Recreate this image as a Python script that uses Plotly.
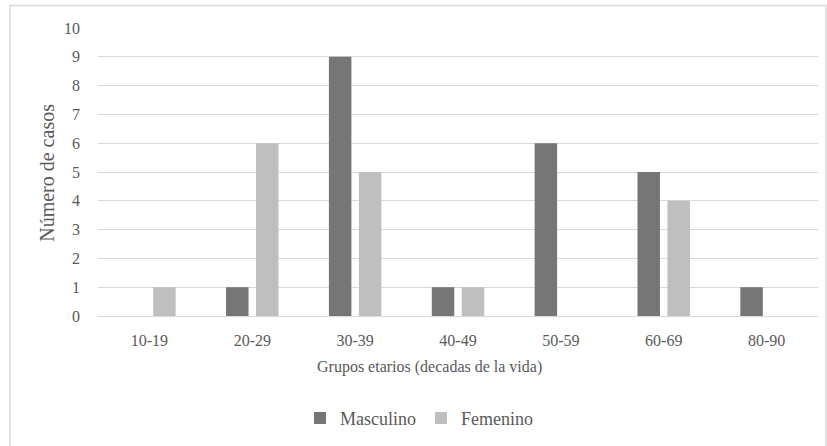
import plotly.graph_objects as go

categories = ["10-19", "20-29", "30-39", "40-49", "50-59", "60-69", "80-90"]
masculino = [0, 1, 9, 1, 6, 5, 1]
femenino = [1, 6, 5, 1, 0, 4, 0]

x_title = "Grupos etarios (decadas de la vida)"
y_title = "Número de casos"

fig = go.Figure()
fig.add_trace(go.Bar(name="Masculino", x=categories, y=masculino,
                     marker=dict(color="#767676", line=dict(width=0))))
fig.add_trace(go.Bar(name="Femenino", x=categories, y=femenino,
                     marker=dict(color="#bfbfbf", line=dict(width=0))))

font = "Liberation Serif"
txt = "#595959"
L, R, T, B = 98, 9, 27.7, 127.3
W, H = 827, 446
pw, ph = W - L - R, H - T - B


def px(x):
    return (x - L) / pw


def py(y):
    return (T + ph - y) / ph


fig.update_layout(
    width=W, height=H,
    margin=dict(l=L, r=R, t=T, b=B),
    paper_bgcolor="white", plot_bgcolor="white",
    barmode="group", bargap=0.417, bargroupgap=0.25,
    font=dict(family=font, color=txt, size=16),
    showlegend=True,
    legend=dict(orientation="h", x=px(300), xanchor="left", y=py(422),
                yanchor="middle", font=dict(family=font, size=18, color=txt),
                traceorder="normal"),
    xaxis=dict(showgrid=False, showline=True, linecolor="#d9d9d9", linewidth=1,
               ticks="", tickfont=dict(family=font, size=16, color=txt),
               ticklabelstandoff=10),
    yaxis=dict(range=[0, 10], dtick=1, showgrid=True, gridcolor="#d9d9d9",
               gridwidth=1, zeroline=False, ticks="",
               tickfont=dict(family=font, size=16, color=txt),
               ticklabelstandoff=17),
    annotations=[
        dict(text=x_title, xref="paper", yref="paper", x=px(429), y=py(370),
             xanchor="center", yanchor="middle", showarrow=False,
             font=dict(family=font, size=16, color=txt)),
        dict(text=y_title, xref="paper", yref="paper", x=px(47), y=py(174),
             xanchor="center", yanchor="middle", showarrow=False, textangle=-90,
             font=dict(family=font, size=20, color=txt)),
    ],
    shapes=[dict(type="rect", xref="paper", yref="paper",
                 x0=px(10), x1=px(826), y0=py(460), y1=py(5),
                 line=dict(color="#d9d9d9", width=1.5), fillcolor="rgba(0,0,0,0)",
                 layer="below")],
)

fig.write_html("out.html", config={"displayModeBar": False},
               post_script="document.body.style.margin='0';document.body.style.overflow='hidden';")
